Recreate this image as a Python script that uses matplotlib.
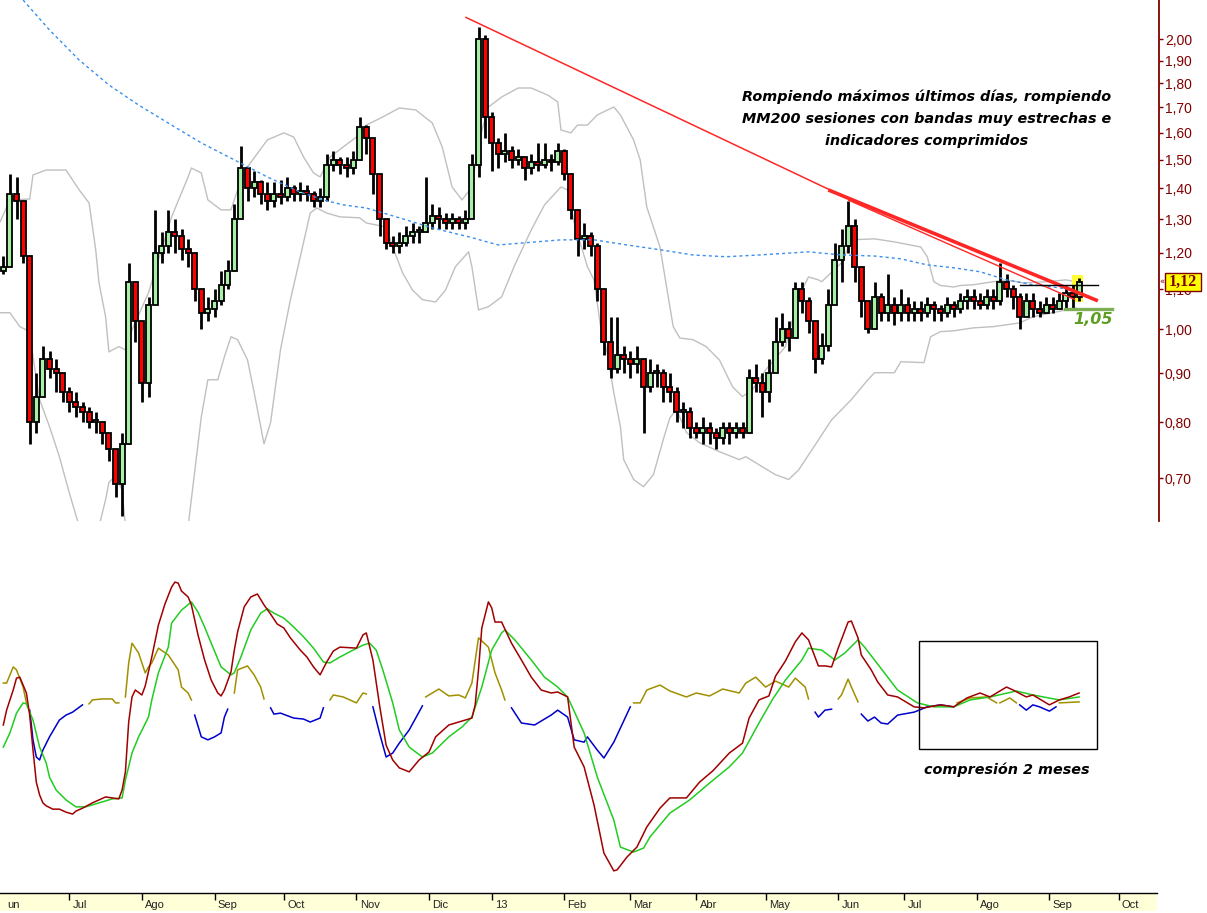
import matplotlib
matplotlib.use("Agg")
import matplotlib.pyplot as plt
import numpy as np
from matplotlib.patches import Rectangle
from matplotlib.ticker import FixedLocator, FixedFormatter, NullLocator, NullFormatter

# ---------------- DATA ----------------
# candles every 2 trading sessions (session index)
candle_day = list(range(1, 329, 2))
first_open = 1.15
closes = [1.16,1.38,1.36,1.19,0.80,0.85,0.93,0.91,0.90,0.86,0.84,0.83,0.82,0.80,0.80,0.78,0.75,0.69,0.76,1.12,
          1.02,0.88,1.06,1.20,1.22,1.26,1.25,1.21,1.20,1.10,1.04,1.05,1.07,1.11,1.15,1.30,1.47,1.40,1.42,1.38,
          1.36,1.38,1.37,1.40,1.38,1.39,1.38,1.36,1.37,1.48,1.50,1.48,1.47,1.50,1.62,1.58,1.45,1.30,1.23,1.22,
          1.23,1.25,1.26,1.26,1.29,1.31,1.30,1.29,1.30,1.29,1.30,1.48,2.00,1.66,1.56,1.52,1.53,1.50,1.51,1.47,
          1.49,1.48,1.50,1.49,1.53,1.45,1.33,1.24,1.25,1.22,1.10,0.97,0.91,0.94,0.93,0.92,0.93,0.87,0.90,0.90,
          0.87,0.86,0.82,0.82,0.79,0.78,0.79,0.78,0.77,0.79,0.78,0.79,0.78,0.89,0.88,0.86,0.90,0.97,1.00,0.98,
          1.10,1.07,1.02,0.93,0.96,1.06,1.18,1.22,1.28,1.16,1.07,1.00,1.08,1.04,1.06,1.04,1.06,1.04,1.05,1.04,
          1.06,1.05,1.04,1.06,1.05,1.07,1.08,1.07,1.06,1.08,1.07,1.12,1.10,1.08,1.03,1.07,1.05,1.04,1.06,1.05,
          1.07,1.09,1.08,1.12]
highs = [1.19,1.45,1.44,1.35,1.08,0.90,0.96,0.95,0.93,0.89,0.87,0.86,0.84,0.83,0.82,0.80,0.78,0.74,0.78,1.17,
         1.10,1.00,1.08,1.33,1.26,1.33,1.30,1.27,1.24,1.20,1.08,1.08,1.10,1.15,1.18,1.35,1.55,1.46,1.46,1.43,
         1.42,1.42,1.43,1.44,1.41,1.42,1.41,1.39,1.40,1.52,1.53,1.51,1.51,1.53,1.66,1.63,1.58,1.40,1.30,1.25,
         1.26,1.28,1.29,1.28,1.44,1.35,1.34,1.32,1.32,1.31,1.33,1.52,2.06,2.02,1.68,1.58,1.60,1.55,1.54,1.51,
         1.52,1.56,1.56,1.52,1.56,1.54,1.45,1.30,1.29,1.26,1.23,1.06,1.03,1.03,0.96,0.95,0.96,0.93,0.93,0.92,
         0.91,0.90,0.87,0.84,0.83,0.80,0.81,0.80,0.79,0.80,0.80,0.80,0.80,0.91,0.92,0.90,0.93,1.03,1.04,1.02,
         1.12,1.12,1.08,1.00,0.99,1.10,1.23,1.27,1.36,1.30,1.15,1.07,1.12,1.09,1.14,1.08,1.10,1.08,1.07,1.07,
         1.08,1.07,1.06,1.08,1.07,1.09,1.10,1.10,1.09,1.10,1.10,1.17,1.14,1.11,1.09,1.09,1.09,1.07,1.08,1.08,
         1.09,1.11,1.11,1.13]
lows = [1.14,1.17,1.30,1.17,0.76,0.78,0.85,0.89,0.86,0.84,0.82,0.81,0.80,0.79,0.78,0.76,0.73,0.67,0.64,0.76,
        0.97,0.84,0.85,1.12,1.17,1.20,1.20,1.18,1.16,1.07,1.00,1.02,1.03,1.06,1.10,1.15,1.30,1.36,1.37,1.35,
        1.33,1.34,1.35,1.36,1.36,1.36,1.36,1.34,1.34,1.36,1.46,1.45,1.44,1.45,1.50,1.52,1.38,1.25,1.21,1.20,
        1.20,1.22,1.23,1.23,1.26,1.27,1.27,1.27,1.27,1.27,1.27,1.44,1.44,1.58,1.46,1.47,1.49,1.47,1.48,1.43,
        1.45,1.46,1.47,1.46,1.48,1.43,1.30,1.19,1.21,1.19,1.07,0.94,0.89,0.90,0.90,0.89,0.90,0.78,0.86,0.87,
        0.84,0.84,0.80,0.79,0.77,0.77,0.76,0.76,0.75,0.76,0.76,0.77,0.77,0.78,0.86,0.81,0.84,0.92,0.96,0.95,
        0.98,1.04,0.99,0.90,0.92,0.95,1.07,1.12,1.20,1.12,1.03,0.99,1.00,1.02,1.02,1.01,1.02,1.02,1.02,1.02,
        1.03,1.02,1.02,1.03,1.03,1.04,1.05,1.05,1.05,1.05,1.05,1.06,1.08,1.05,1.00,1.04,1.03,1.03,1.04,1.04,
        1.05,1.05,1.05,1.07]

upper_band = [(0,1.292),(3,1.362),(9,1.365),(10,1.446),(14,1.463),(20,1.463),(24,1.395),(27,1.352),(29,1.209),
              (30,1.117),(32,1.030),(33,0.947),(36,0.959),(38,0.952),(40,0.998),(45,1.091),(48,1.180),(52,1.308),
              (57,1.439),(58,1.470),(61,1.453),(63,1.362),(67,1.330),(70,1.330),(72,1.395),(75,1.474),(81,1.572),
              (86,1.599),(89,1.583),(92,1.509),(95,1.453),(97,1.439),(100,1.509),(104,1.546),(108,1.583),(111,1.629),
              (116,1.661),(121,1.697),(126,1.689),(131,1.637),(134,1.546),(137,1.405),(140,1.362),(143,1.405),
              (145,1.561),(148,1.701),(152,1.742),(157,1.780),(161,1.780),(166,1.750),(169,1.722),(170,1.610),
              (173,1.599),(175,1.629),(178,1.629),(181,1.669),(186,1.701),(188,1.669),(192,1.572),(194,1.499),
              (196,1.339),(200,1.217),(202,1.106),(204,1.006),(206,0.979),(210,0.975),(214,0.959),(218,0.929),
              (222,0.871),(225,0.851),(228,0.865),(232,0.907),(238,0.959),(242,1.080),(245,1.133),(248,1.125),
              (249,1.120),(255,1.172),(258,1.238),(265,1.241),(271,1.232),(279,1.217),(281,1.189),(283,1.120),
              (285,1.110),(289,1.106),(291,1.110),(295,1.112),(301,1.120),(305,1.125),(310,1.117),(317,1.120),
              (323,1.125),(326,1.120)]
lower_band = [(0,1.040),(3,1.040),(6,1.006),(9,0.994),(10,0.936),(12,0.845),(15,0.792),(18,0.737),(21,0.676),
              (24,0.624),(26,0.580),(28,0.580),(30,0.624),(32,0.665),(33,0.693),(35,0.704),(37,0.681),(38,0.624),
              (40,0.580),(55,0.580),(57,0.624),(61,0.811),(63,0.886),(66,0.886),(68,0.936),(70,0.982),(72,0.975),
              (75,0.929),(77,0.860),(80,0.760),(82,0.800),(85,0.952),(88,1.073),(91,1.189),(94,1.320),(96,1.336),
              (99,1.320),(103,1.308),(109,1.305),(111,1.289),(117,1.277),(119,1.217),(122,1.144),(125,1.098),
              (128,1.073),(132,1.067),(135,1.098),(138,1.161),(142,1.203),(143,1.161),(145,1.047),(148,1.055),
              (152,1.080),(156,1.166),(161,1.268),(165,1.346),(170,1.405),(172,1.395),(174,1.289),(178,1.161),
              (180,1.125),(182,1.006),(184,0.945),(186,0.859),(188,0.792),(189,0.732),(192,0.698),(195,0.686),
              (198,0.706),(201,0.768),(203,0.809),(205,0.825),(208,0.781),(212,0.762),(218,0.746),(224,0.732),
              (226,0.737),(230,0.723),(235,0.706),(239,0.698),(242,0.714),(247,0.758),(252,0.805),(258,0.845),
              (263,0.886),(265,0.901),(271,0.901),(273,0.925),(280,0.923),(282,0.982),(285,0.994),(289,0.996),
              (295,1.003),(301,1.006),(309,1.015),(313,1.030),(323,1.047),(326,1.052)]
mm200 = [(7,2.197),(15,2.045),(24,1.903),(33,1.793),(42,1.709),(52,1.629),(61,1.561),(71,1.499),(81,1.439),
         (91,1.388),(98,1.362),(104,1.346),(111,1.336),(121,1.305),(131,1.274),(142,1.247),(151,1.223),
         (170,1.238),(180,1.238),(190,1.223),(200,1.209),(210,1.194),(220,1.189),(230,1.194),(240,1.200),
         (245,1.203),(255,1.194),(265,1.191),(273,1.183),(281,1.166),(289,1.158),(297,1.147),(305,1.125),
         (313,1.112),(321,1.104),(324,1.098)]

# trend lines (session, price)
trend_long = [(141, 2.109), (251.5, 1.395)]
trend_main = [(251, 1.395), (332.7, 1.070)]
trend_inner = [(257, 1.362), (325.8, 1.073)]
resistance = [(309, 1.112), (332.7, 1.112)]
support = [(322.7, 1.05), (337, 1.05)]
last_price = 1.12

# oscillator panel (session, value)
osc_red = [(1,50.0),(2,54.5),(4,60.6),(5,64.2),(6,64.5),(8,59.7),(9,53.0),(10,42.4),(11,32.7),(12,28.8),(13,26.4),
           (14,25.5),(16,24.5),(18,24.5),(20,23.6),(22,23.0),(23,23.9),(25,24.8),(28,26.4),(32,28.2),(34,27.9),
           (36,27.6),(37,30.3),(38,35.8),(39,50.9),(40,58.5),(41,60.6),(43,59.1),(44,61.8),(46,70.6),(48,80.3),
           (50,86.7),(52,91.8),(53,93.3),(54,93.0),(55,90.6),(57,88.8),(58,86.4),(60,77.3),(62,69.7),(64,63.6),
           (66,59.7),(67,58.8),(68,60.6),(70,66.1),(71,72.7),(72,78.2),(74,85.8),(76,88.8),(78,89.7),(80,86.4),
           (82,83.6),(84,80.6),(86,79.4),(88,76.4),(91,72.7),(93,70.6),(95,67.6),(97,65.2),(99,69.1),(101,72.4),
           (103,73.6),(108,73.3),(110,77.3),(111,77.9),(113,69.7),(115,56.1),(117,43.9),(119,39.4),(121,37.0),
           (124,35.8),(127,39.4),(130,41.8),(132,46.4),(136,50.0),(139,50.9),(142,51.8),(143,52.1),(144,56.1),
           (145,66.7),(146,79.4),(148,87.3),(149,85.5),(150,81.2),(152,81.2),(155,74.8),(158,69.7),(161,64.5),
           (164,60.6),(167,59.7),(169,60.0),(172,58.5),(174,43.3),(177,37.3),(180,25.8),(183,11.2),(186,5.8),
           (187,6.1),(190,10.0),(193,13.0),(196,19.1),(200,24.8),(203,27.9),(208,27.9),(212,32.7),(216,36.1),
           (221,41.5),(225,44.5),(227,52.1),(230,57.6),(233,58.8),(235,64.8),(238,69.4),(241,75.2),(243,77.9),
           (245,75.8),(248,67.9),(250,67.9),(252,67.6),(254,73.3),(257,81.2),(258,81.5),(260,76.4),(261,71.2),
           (264,66.7),(266,63.0),(269,59.1),(272,58.5),(277,55.5),(280,55.2),(285,56.1),(289,55.5),(293,58.2),
           (297,59.7),(300,58.5),(305,61.5),(307,60.6),(311,58.5),(313,59.1),(318,56.1),(321,57.6),(324,58.5),
           (327,59.7)]
osc_green = [(1,43.3),(3,47.6),(5,53.6),(7,56.7),(8,56.4),(10,51.5),(12,43.3),(14,38.5),(15,34.2),(17,30.3),
             (20,27.3),(23,25.2),(26,25.2),(30,26.4),(34,27.6),(37,27.9),(38,33.3),(40,41.5),(42,46.4),(45,52.4),
             (46,57.6),(48,65.8),(51,73.6),(52,80.9),(55,84.8),(58,87.3),(60,84.2),(62,79.7),(64,74.8),(67,67.6),
             (70,65.2),(71,65.8),(73,70.6),(76,78.8),(79,83.9),(81,85.2),(83,83.9),(86,82.4),(89,79.7),(92,76.7),
             (95,73.3),(98,69.1),(100,68.8),(103,70.6),(107,72.7),(110,74.2),(112,74.8),(114,72.7),(116,66.7),
             (119,56.7),(121,48.5),(124,43.3),(128,40.3),(131,41.5),(136,46.4),(140,49.4),(143,52.4),(146,61.5),
             (149,72.7),(152,77.9),(153,78.8),(156,75.8),(161,69.7),(165,64.5),(169,61.5),(172,58.5),(177,47.6),
             (181,34.2),(186,21.2),(188,13.0),(192,11.5),(195,12.7),(197,16.1),(203,23.3),(209,27.3),(215,32.4),
             (221,37.3),(225,41.5),(230,50.6),(234,57.6),(238,63.6),(243,69.7),(245,73.3),(249,72.7),(253,69.7),
             (256,71.8),(260,75.8),(262,73.6),(268,65.8),(272,60.6),(278,56.7),(283,55.5),(289,55.5),(294,57.6),
             (300,58.5),(308,60.3),(313,59.1),(321,57.6),(327,58.5)]
osc_olive_segments = [
    [(1,62.7),(2,62.7),(4,67.6),(5,66.7),(7,61.5),(8,56.7)],
    [(27,56.4),(28,57.6),(31,57.9),(34,57.9),(35,56.7),(36,56.7)],
    [(38,58.5),(39,68.8),(40,74.8),(42,71.8),(44,65.8),(45,67.6),(46,68.8),(48,73.3),(51,71.2),(54,66.7),
     (55,61.5),(57,59.7),(58,57.6)],
    [(71,59.7),(72,66.7),(75,67.9),(77,65.2),(79,61.5),(80,57.9)],
    [(100,57.6),(101,59.1),(104,58.5),(108,56.7),(110,59.7),(111,59.4)],
    [(129,58.5),(133,60.9),(136,58.8),(139,59.1),(141,58.2),(143,62.7),(145,76.4),(148,73.6),(150,65.8),
     (152,60.6),(153,57.6)],
    [(192,56.7),(194,56.7),(196,60.6),(200,62.1),(203,60.3),(208,58.5),(211,59.7),(215,58.8),(219,60.9),
     (224,59.7),(226,62.7),(229,64.5),(232,61.5),(235,63.3),(239,61.5),(241,64.2),(244,61.5),(245,57.9)],
    [(254,57.9),(255,59.1),(257,63.9),(258,61.5),(260,57.0)],
    [(290,56.7),(294,58.2),(299,58.5),(302,56.7)],
    [(303,56.7),(306,58.2),(308,56.7)],
    [(321,56.7),(327,57.0)],
]
osc_blue_segments = [
    [(9,54.5),(10,45.5),(11,40.3),(12,39.4),(13,42.4),(15,46.4),(18,51.5),(20,53.0),(22,53.9),(25,56.1)],
    [(59,53.0),(61,46.4),(63,45.5),(65,46.4),(67,47.6),(68,52.4),(69,54.8)],
    [(82,55.2),(83,53.3),(85,53.6),(89,52.1),(92,51.8),(94,50.9),(97,52.1),(98,55.2)],
    [(113,55.5),(115,47.6),(117,40.3),(119,41.5),(121,44.5),(124,48.5),(128,55.8)],
    [(155,55.2),(158,50.6),(162,50.0),(167,53.0),(169,54.5),(172,52.4),(174,45.5),(177,44.8),(178,46.4),
     (181,42.4),(183,40.0),(186,44.8),(191,55.5)],
    [(247,53.9),(248,52.4),(250,54.5),(252,54.8)],
    [(261,53.3),(263,51.2),(265,52.4),(267,50.6),(269,50.3),(272,53.0),(277,53.9),(281,55.5),(285,56.1),
     (289,55.5)],
    [(309,56.1),(311,54.5),(313,56.1),(315,55.5),(318,54.2),(320,55.5)],
]

month_ticks = [21, 43, 65, 86, 108, 130, 149, 171, 191, 211, 232, 254, 274, 296, 318, 339]
month_labels = ['Jul', 'Ago', 'Sep', 'Oct', 'Nov', 'Dic', '13', 'Feb', 'Mar', 'Abr', 'May', 'Jun',
                'Jul', 'Ago', 'Sep', 'Oct']
price_ticks = [0.70, 0.80, 0.90, 1.00, 1.10, 1.20, 1.30, 1.40, 1.50, 1.60, 1.70, 1.80, 1.90, 2.00]
price_labels = ['0,70', '0,80', '0,90', '1,00', '1,10', '1,20', '1,30', '1,40', '1,50', '1,60',
                '1,70', '1,80', '1,90', '2,00']

annotation = ['Rompiendo máximos últimos días, rompiendo',
              'MM200 sesiones con bandas muy estrechas e',
              'indicadores comprimidos']
box_note = 'compresión 2 meses'

# ---------------- FIGURE ----------------
W, H = 1207, 913
fig = plt.figure(figsize=(W / 100, H / 100), dpi=100)
fig.patch.set_facecolor('white')


def fx(px):
    return px / W


def fy(py):
    return 1 - py / H


PX_PER_DAY = 3.3
AX_RIGHT = 1158.7
XMAX = AX_RIGHT / PX_PER_DAY
AXRED = '#800000'

# ---- price panel ----
ax = fig.add_axes([0, fy(521), fx(AX_RIGHT), 521 / H])
ax.set_yscale('log')
ax.set_ylim(0.632, 2.197)
ax.set_xlim(0, XMAX)
for s in ['left', 'top', 'bottom']:
    ax.spines[s].set_visible(False)
ax.spines['right'].set_color(AXRED)
ax.spines['right'].set_linewidth(1.3)
ax.xaxis.set_major_locator(NullLocator())
ax.xaxis.set_minor_locator(NullLocator())
ax.yaxis.tick_right()
ax.yaxis.set_major_locator(FixedLocator(price_ticks))
ax.yaxis.set_major_formatter(FixedFormatter(price_labels))
ax.yaxis.set_minor_locator(NullLocator())
ax.yaxis.set_minor_formatter(NullFormatter())
ax.tick_params(axis='y', direction='out', length=3, width=1, color=AXRED, labelcolor=AXRED,
               labelsize=10, pad=1.5)
for lab in ax.get_yticklabels():
    lab.set_fontfamily('Liberation Sans')

# bands
ub_d, ub_v = zip(*upper_band)
lb_d, lb_v = zip(*lower_band)
ax.plot(ub_d, ub_v, color='#C0C0C0', lw=1.0, zorder=1)
ax.plot(lb_d, lb_v, color='#C0C0C0', lw=1.0, zorder=1)

# yellow highlight on last candle
ax.add_patch(Rectangle((324.8, 1.067), 3.4, 1.139 - 1.067, facecolor='#FFFF33', edgecolor='none', zorder=1.5))

# candles
opens = [first_open] + closes[:-1]
days = np.array(candle_day, dtype=float)
o = np.array(opens)
c = np.array(closes)
hi = np.array(highs)
lo = np.array(lows)
ax.vlines(days, lo, hi, color='black', lw=2.0, zorder=2)
bottoms = np.minimum(o, c)
tops = np.maximum(o, c)
tops = np.where(tops / bottoms < 1.006, bottoms * 1.006, tops)
cols = np.where(c >= o, '#A8F0A8', '#FF0000')
ax.bar(days, tops - bottoms, bottom=bottoms, width=1.55, color=cols, edgecolor='black',
       linewidth=1.3, zorder=2.5)

# MM200
md, mv = zip(*mm200)
ax.plot(md, mv, color='#3A8EF0', lw=1.0, dashes=(2.2, 2.2), zorder=3)

# trend lines
for seg, lw in [(trend_long, 1.1), (trend_main, 2.6), (trend_inner, 1.0)]:
    sd, sv = zip(*seg)
    ax.plot(sd, sv, color='#FF2626', lw=lw, zorder=4, solid_capstyle='butt')
rd, rv = zip(*resistance)
ax.plot(rd, rv, color='black', lw=1.0, zorder=4)
sd, sv = zip(*support)
ax.plot(sd, sv, color='#7FAF55', lw=2.4, zorder=4, clip_on=False)

# ---- oscillator panel ----
ax2 = fig.add_axes([0, fy(890), fx(AX_RIGHT), (890 - 560) / H])
ax2.set_xlim(0, XMAX)
ax2.set_ylim(0, 100)
ax2.axis('off')
rd2, rv2 = zip(*osc_red)
gd2, gv2 = zip(*osc_green)
ax2.plot(rd2, rv2, color='#A00000', lw=1.1, zorder=3)
ax2.plot(gd2, gv2, color='#22CC22', lw=1.1, zorder=2)
for seg in osc_olive_segments:
    d_, v_ = zip(*seg)
    ax2.plot(d_, v_, color='#A09000', lw=1.1, zorder=1)
for seg in osc_blue_segments:
    d_, v_ = zip(*seg)
    ax2.plot(d_, v_, color='#0000CC', lw=1.1, zorder=1)

# compression box
fig.patches.append(Rectangle((fx(919), fy(749)), 178 / W, 108 / H, transform=fig.transFigure,
                             facecolor='none', edgecolor='black', lw=1.0))

# ---- date strip ----
ax3 = fig.add_axes([0, fy(911), fx(1157), 18 / H])
ax3.set_xlim(0, XMAX * 1157 / AX_RIGHT)
ax3.set_ylim(0, 1)
ax3.set_facecolor('#FFFFD8')
for s in ['left', 'right', 'bottom']:
    ax3.spines[s].set_visible(False)
ax3.spines['top'].set_color('black')
ax3.spines['top'].set_linewidth(1.0)
ax3.set_xticks([])
ax3.set_yticks([])
ax3.vlines(month_ticks, 0.63, 1.0, color='black', lw=1.0)
for t, lab in zip(month_ticks, month_labels):
    ax3.text(t + 1.0, 0.08, lab, fontsize=8, color='#222222', family='Liberation Sans',
             ha='left', va='bottom')
fig.text(fx(7), fy(911) + 0.08 * 18 / H, 'un', fontsize=8, color='#222222', family='Liberation Sans',
         ha='left', va='bottom')

# ---- texts ----
for i, line in enumerate(annotation):
    fig.text(fx(927), fy(97 + 22 * i), line, ha='center', va='center', fontsize=10.4,
             fontweight='bold', fontstyle='italic', family='DejaVu Sans', color='black')
fig.text(fx(1007), fy(770), box_note, ha='center', va='center', fontsize=10.4,
         fontweight='bold', fontstyle='italic', family='DejaVu Sans', color='black')
fig.text(fx(1093), fy(320), '1,05', ha='center', va='center', fontsize=11.5,
         fontweight='bold', fontstyle='italic', family='DejaVu Sans', color='#5E9E22')

# last price box
fig.patches.append(Rectangle((fx(1165), fy(291)), 36 / W, 18 / H, transform=fig.transFigure,
                             facecolor='#FFFF00', edgecolor=AXRED, lw=1.0, zorder=5))
fig.text(fx(1183), fy(282), '1,12', ha='center', va='center', fontsize=11.5,
         fontweight='bold', family='Liberation Serif', color=AXRED, zorder=6)
fig.text(fx(1162), fy(282), '«', ha='center', va='center', fontsize=6, color=AXRED, zorder=6)

fig.savefig('out.png', dpi=100)
